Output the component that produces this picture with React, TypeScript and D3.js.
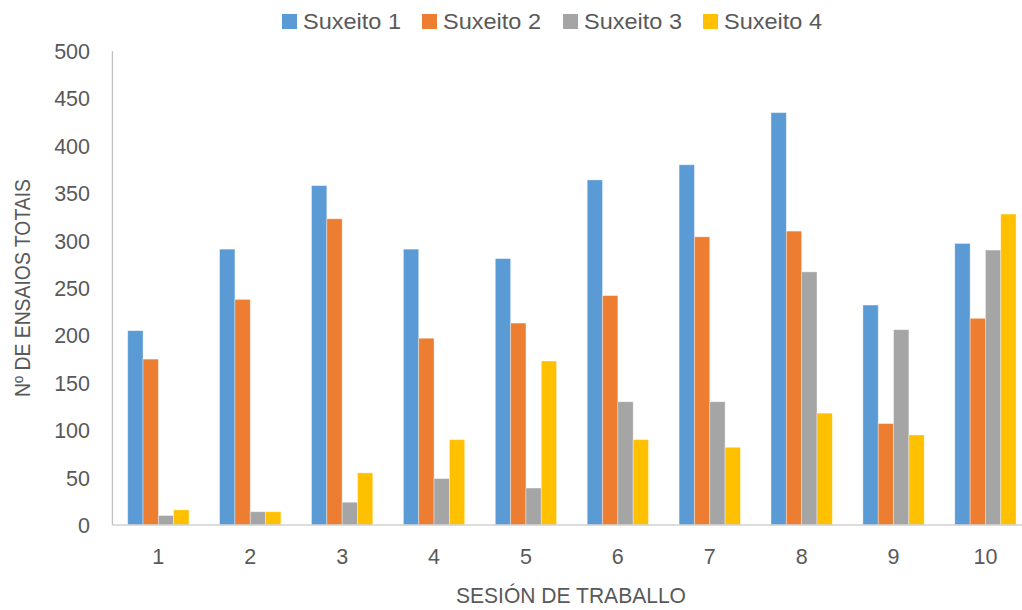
import React from "react";
import * as d3 from "d3";

const sessions = ["1", "2", "3", "4", "5", "6", "7", "8", "9", "10"];
const seriesNames = ["Suxeito 1", "Suxeito 2", "Suxeito 3", "Suxeito 4"];
const suxeito1 = [205, 291, 358, 291, 281, 364, 380, 435, 232, 297];
const suxeito2 = [175, 238, 323, 197, 213, 242, 304, 310, 107, 218];
const suxeito3 = [10, 14, 24, 49, 39, 130, 130, 267, 206, 290];
const suxeito4 = [16, 14, 55, 90, 173, 90, 82, 118, 95, 328];
const yTicks = [0, 50, 100, 150, 200, 250, 300, 350, 400, 450, 500];
const colors = ["#5B9BD5", "#ED7D31", "#A5A5A5", "#FFC000"];

const W = 1022;
const H = 610;
const FONT = "'Liberation Sans', Arial, sans-serif";
const TEXT = "#595959";

export default function App() {
  const series = [suxeito1, suxeito2, suxeito3, suxeito4];
  const plotLeft = 112.4;
  const plotTop = 51;
  const plotBottom = 525;
  const step = 91.9;

  const x = d3
    .scaleBand<string>()
    .domain(sessions)
    .range([plotLeft, plotLeft + step * sessions.length])
    .paddingInner(0.333)
    .paddingOuter(0.1665);
  const xs = d3
    .scaleBand<string>()
    .domain(seriesNames)
    .range([0, x.bandwidth()])
    .padding(0);
  const y = d3.scaleLinear().domain([0, 500]).range([plotBottom, plotTop]);

  const legendX = [282, 422, 563, 703];

  return (
    <div style={{ position: "fixed", left: 0, top: 0 }}>
      <svg width={W} height={H} style={{ display: "block", background: "#fff" }}>
        {/* legend */}
        {seriesNames.map((name, i) => (
          <g key={name} transform={`translate(${legendX[i]},0)`}>
            <rect x={0} y={14} width={15} height={15} fill={colors[i]} />
            <text
              x={21}
              y={21.5}
              dominantBaseline="central"
              fontFamily={FONT}
              fontSize={22}
              textLength={98}
              lengthAdjust="spacingAndGlyphs"
              fill={TEXT}
            >
              {name}
            </text>
          </g>
        ))}

        {/* bars */}
        {series.map((vals, si) =>
          vals.map((v, i) => {
            const x0 = (x(sessions[i]) as number) + (xs(seriesNames[si]) as number);
            return (
              <rect
                key={`${si}-${i}`}
                x={x0}
                y={y(v)}
                width={xs.bandwidth()}
                height={plotBottom - y(v)}
                fill={colors[si]}
                stroke="#ffffff"
                strokeOpacity={0.45}
                strokeWidth={0.8}
              />
            );
          })
        )}

        {/* axes */}
        <line x1={plotLeft} x2={plotLeft} y1={plotTop} y2={plotBottom} stroke="#BFBFBF" strokeWidth={1.3} />
        <line x1={plotLeft} x2={W} y1={plotBottom} y2={plotBottom} stroke="#D0D0D0" strokeWidth={1.6} />

        {/* y tick labels */}
        {yTicks.map((t) => (
          <text
            key={t}
            x={90}
            y={y(t) + 1}
            textAnchor="end"
            dominantBaseline="central"
            fontFamily={FONT}
            fontSize={21.5}
            fill={TEXT}
          >
            {t}
          </text>
        ))}

        {/* x tick labels */}
        {sessions.map((s) => (
          <text
            key={s}
            x={(x(s) as number) + x.bandwidth() / 2}
            y={557}
            textAnchor="middle"
            dominantBaseline="central"
            fontFamily={FONT}
            fontSize={21.5}
            fill={TEXT}
          >
            {s}
          </text>
        ))}

        {/* axis titles */}
        <text
          x={571}
          y={596}
          textAnchor="middle"
          dominantBaseline="central"
          fontFamily={FONT}
          fontSize={21.5}
          textLength={230}
          lengthAdjust="spacingAndGlyphs"
          fill={TEXT}
        >
          SESIÓN DE TRABALLO
        </text>
        <text
          transform={`translate(23,${(plotTop + plotBottom) / 2}) rotate(-90)`}
          textAnchor="middle"
          dominantBaseline="central"
          fontFamily={FONT}
          fontSize={21.5}
          textLength={218}
          lengthAdjust="spacingAndGlyphs"
          fill={TEXT}
        >
          Nº DE ENSAIOS TOTAIS
        </text>
      </svg>
    </div>
  );
}
